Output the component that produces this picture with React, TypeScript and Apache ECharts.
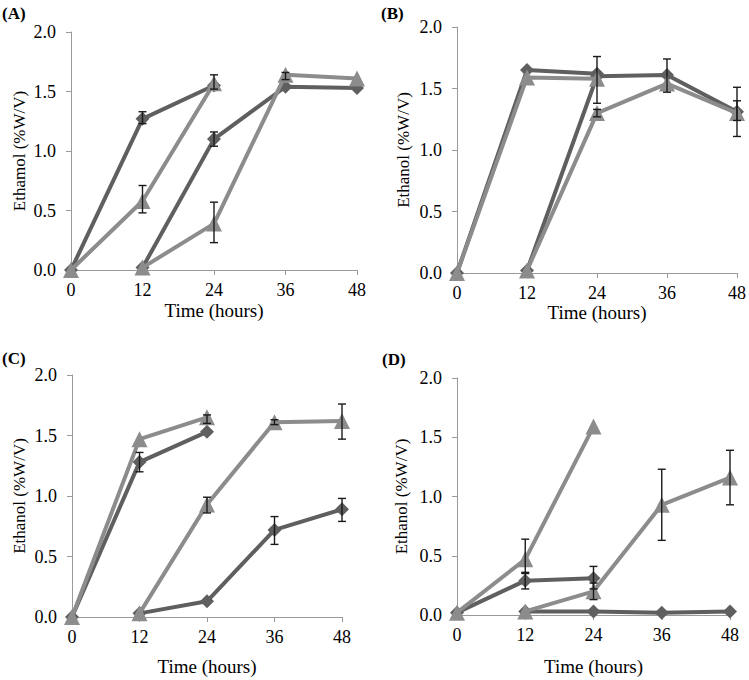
import React, { useEffect, useRef } from "react";
import * as echarts from "echarts";

// ---- Data (time in hours, ethanol %W/V) ----
const xTicks = [0, 12, 24, 36, 48];

// Panel A
const aDark1 = [[0, 0], [12, 1.27], [24, 1.55]];
const aLight1 = [[0, 0], [12, 0.58], [24, 1.57]];
const aDark2 = [[12, 0.02], [24, 1.1], [36, 1.54], [48, 1.53]];
const aLight2 = [[12, 0.02], [24, 0.39], [36, 1.64], [48, 1.61]];
const aErr = [[12, 1.23, 1.33], [12, 0.48, 0.71], [24, 1.52, 1.64], [24, 1.04, 1.16], [24, 0.23, 0.57], [36, 1.6, 1.66]];

// Panel B
const bDark1 = [[0, 0], [12, 1.65], [24, 1.62]];
const bLight1 = [[0, 0], [12, 1.59], [24, 1.58]];
const bDark2 = [[12, 0.02], [24, 1.6], [36, 1.61], [48, 1.31]];
const bLight2 = [[12, 0.02], [24, 1.3], [36, 1.54], [48, 1.3]];
const bErr = [[24, 1.38, 1.76], [24, 1.27, 1.33], [36, 1.47, 1.74], [48, 1.11, 1.51], [48, 1.24, 1.4]];

// Panel C
const cDark1 = [[0, 0], [12, 1.28], [24, 1.53]];
const cLight1 = [[0, 0], [12, 1.47], [24, 1.65]];
const cDark2 = [[12, 0.03], [24, 0.13], [36, 0.72], [48, 0.89]];
const cLight2 = [[12, 0.03], [24, 0.93], [36, 1.61], [48, 1.62]];
const cErr = [[12, 1.2, 1.36], [24, 1.6, 1.67], [24, 0.86, 0.99], [36, 1.59, 1.63], [36, 0.6, 0.83], [48, 1.47, 1.76], [48, 0.79, 0.98]];

// Panel D
const dDark1 = [[0, 0.02], [12, 0.29], [24, 0.31]];
const dLight1 = [[0, 0.02], [12, 0.47], [24, 1.59]];
const dDark2 = [[12, 0.03], [24, 0.03], [36, 0.02], [48, 0.03]];
const dLight2 = [[12, 0.03], [24, 0.2], [36, 0.93], [48, 1.16]];
const dErr = [[12, 0.35, 0.64], [12, 0.22, 0.36], [24, 0.22, 0.41], [24, 0.13, 0.27], [36, 0.63, 1.23], [48, 0.93, 1.39]];

const panelLabels = ["(A)", "(B)", "(C)", "(D)"];
const yTitles = ["Ethamol (%W/V)", "Ethanol (%W/V)", "Ethanol (%W/V)", "Ethanol (%W/V)"];
const xTitle = "Time (hours)";

const panels = [
  { dark1: aDark1, light1: aLight1, dark2: aDark2, light2: aLight2, err: aErr },
  { dark1: bDark1, light1: bLight1, dark2: bDark2, light2: bLight2, err: bErr },
  { dark1: cDark1, light1: cLight1, dark2: cDark2, light2: cLight2, err: cErr },
  { dark1: dDark1, light1: dLight1, dark2: dDark2, light2: dLight2, err: dErr },
];

// ---- Layout ----
const grids = [
  { left: 71, top: 32, width: 286, height: 238 },
  { left: 457, top: 27, width: 281, height: 246 },
  { left: 72, top: 375, width: 270, height: 242 },
  { left: 457, top: 378, width: 273, height: 237 },
];
const yNameGaps = [43, 45, 44, 47];
const xNameGaps = [31, 30, 40, 42];
const labelPos = [
  { x: 2, y: 14 },
  { x: 381, y: 14 },
  { x: 2, y: 359 },
  { x: 382, y: 360 },
];

const FONT = "Times New Roman";
const DARK = "#5f5f5f";
const LIGHT = "#8c8c8c";
const AXIS = "#9a9a9a";

export default function App() {
  const ref = useRef<HTMLDivElement>(null);
  useEffect(() => {
    if (!ref.current) return;
    const chart = echarts.init(ref.current, undefined, { renderer: "svg" });

    const series: any[] = [];
    panels.forEach((p, i) => {
      const lineSeries = (data: number[][], dark: boolean) => ({
        type: "line",
        xAxisIndex: i,
        yAxisIndex: i,
        data,
        symbol: dark ? "diamond" : "triangle",
        symbolSize: dark ? 14 : 16,
        lineStyle: { color: dark ? DARK : LIGHT, width: 4 },
        itemStyle: { color: dark ? DARK : LIGHT },
        z: dark ? 2 : 3,
      });
      series.push(lineSeries(p.dark1, true));
      series.push(lineSeries(p.dark2, true));
      series.push(lineSeries(p.light1, false));
      series.push(lineSeries(p.light2, false));
      series.push({
        type: "custom",
        xAxisIndex: i,
        yAxisIndex: i,
        data: p.err,
        encode: { x: 0, y: [1, 2] },
        z: 5,
        renderItem: (params: any, api: any) => {
          const x = api.value(0);
          const lo = api.coord([x, api.value(1)]);
          const hi = api.coord([x, api.value(2)]);
          const w = 4;
          const st = { stroke: "#1a1a1a", lineWidth: 1.4 };
          return {
            type: "group",
            children: [
              { type: "line", shape: { x1: lo[0], y1: lo[1], x2: hi[0], y2: hi[1] }, style: st },
              { type: "line", shape: { x1: lo[0] - w, y1: lo[1], x2: lo[0] + w, y2: lo[1] }, style: st },
              { type: "line", shape: { x1: hi[0] - w, y1: hi[1], x2: hi[0] + w, y2: hi[1] }, style: st },
            ],
          };
        },
      });
    });

    const tick = { fontFamily: FONT, fontSize: 18, color: "#000", fontWeight: "normal" };

    const option: any = {
      animation: false,
      backgroundColor: "#ffffff",
      textStyle: { fontFamily: FONT, fontSize: 18, color: "#000" },
      grid: grids.map((g) => ({ ...g, containLabel: false })),
      xAxis: grids.map((_, i) => ({
        type: "value",
        gridIndex: i,
        min: 0,
        max: 48,
        interval: 12,
        name: xTitle,
        nameLocation: "middle",
        nameGap: xNameGaps[i],
        nameTextStyle: { ...tick, fontSize: 19 },
        axisLine: { show: true, onZero: false, lineStyle: { color: AXIS, width: 1 } },
        axisTick: { show: true, length: 5, lineStyle: { color: AXIS } },
        axisLabel: {
          ...tick,
          margin: 11,
          formatter: (v: number) => (xTicks.indexOf(v) >= 0 ? String(v) : ""),
        },
        splitLine: { show: false },
      })),
      yAxis: grids.map((_, i) => ({
        type: "value",
        gridIndex: i,
        min: 0,
        max: 2,
        interval: 0.5,
        name: yTitles[i],
        nameLocation: "middle",
        nameGap: yNameGaps[i],
        nameRotate: 90,
        nameTextStyle: { ...tick, fontSize: 17 },
        axisLine: { show: true, lineStyle: { color: AXIS, width: 1 } },
        axisTick: { show: true, length: 5, lineStyle: { color: AXIS } },
        axisLabel: {
          ...tick,
          margin: 15,
          formatter: (v: number) => v.toFixed(1),
        },
        splitLine: { show: false },
      })),
      graphic: panelLabels.map((t, i) => ({
        type: "text",
        left: labelPos[i].x,
        top: labelPos[i].y - 9,
        style: { text: t, font: 'bold 17px "Liberation Serif", serif', fill: "#000" },
      })),
      series,
    };
    chart.setOption(option);
    return () => chart.dispose();
  }, []);

  return (
    <div
      ref={ref}
      style={{ position: "fixed", left: 0, top: 0, width: 749, height: 680, background: "#fff" }}
    />
  );
}
